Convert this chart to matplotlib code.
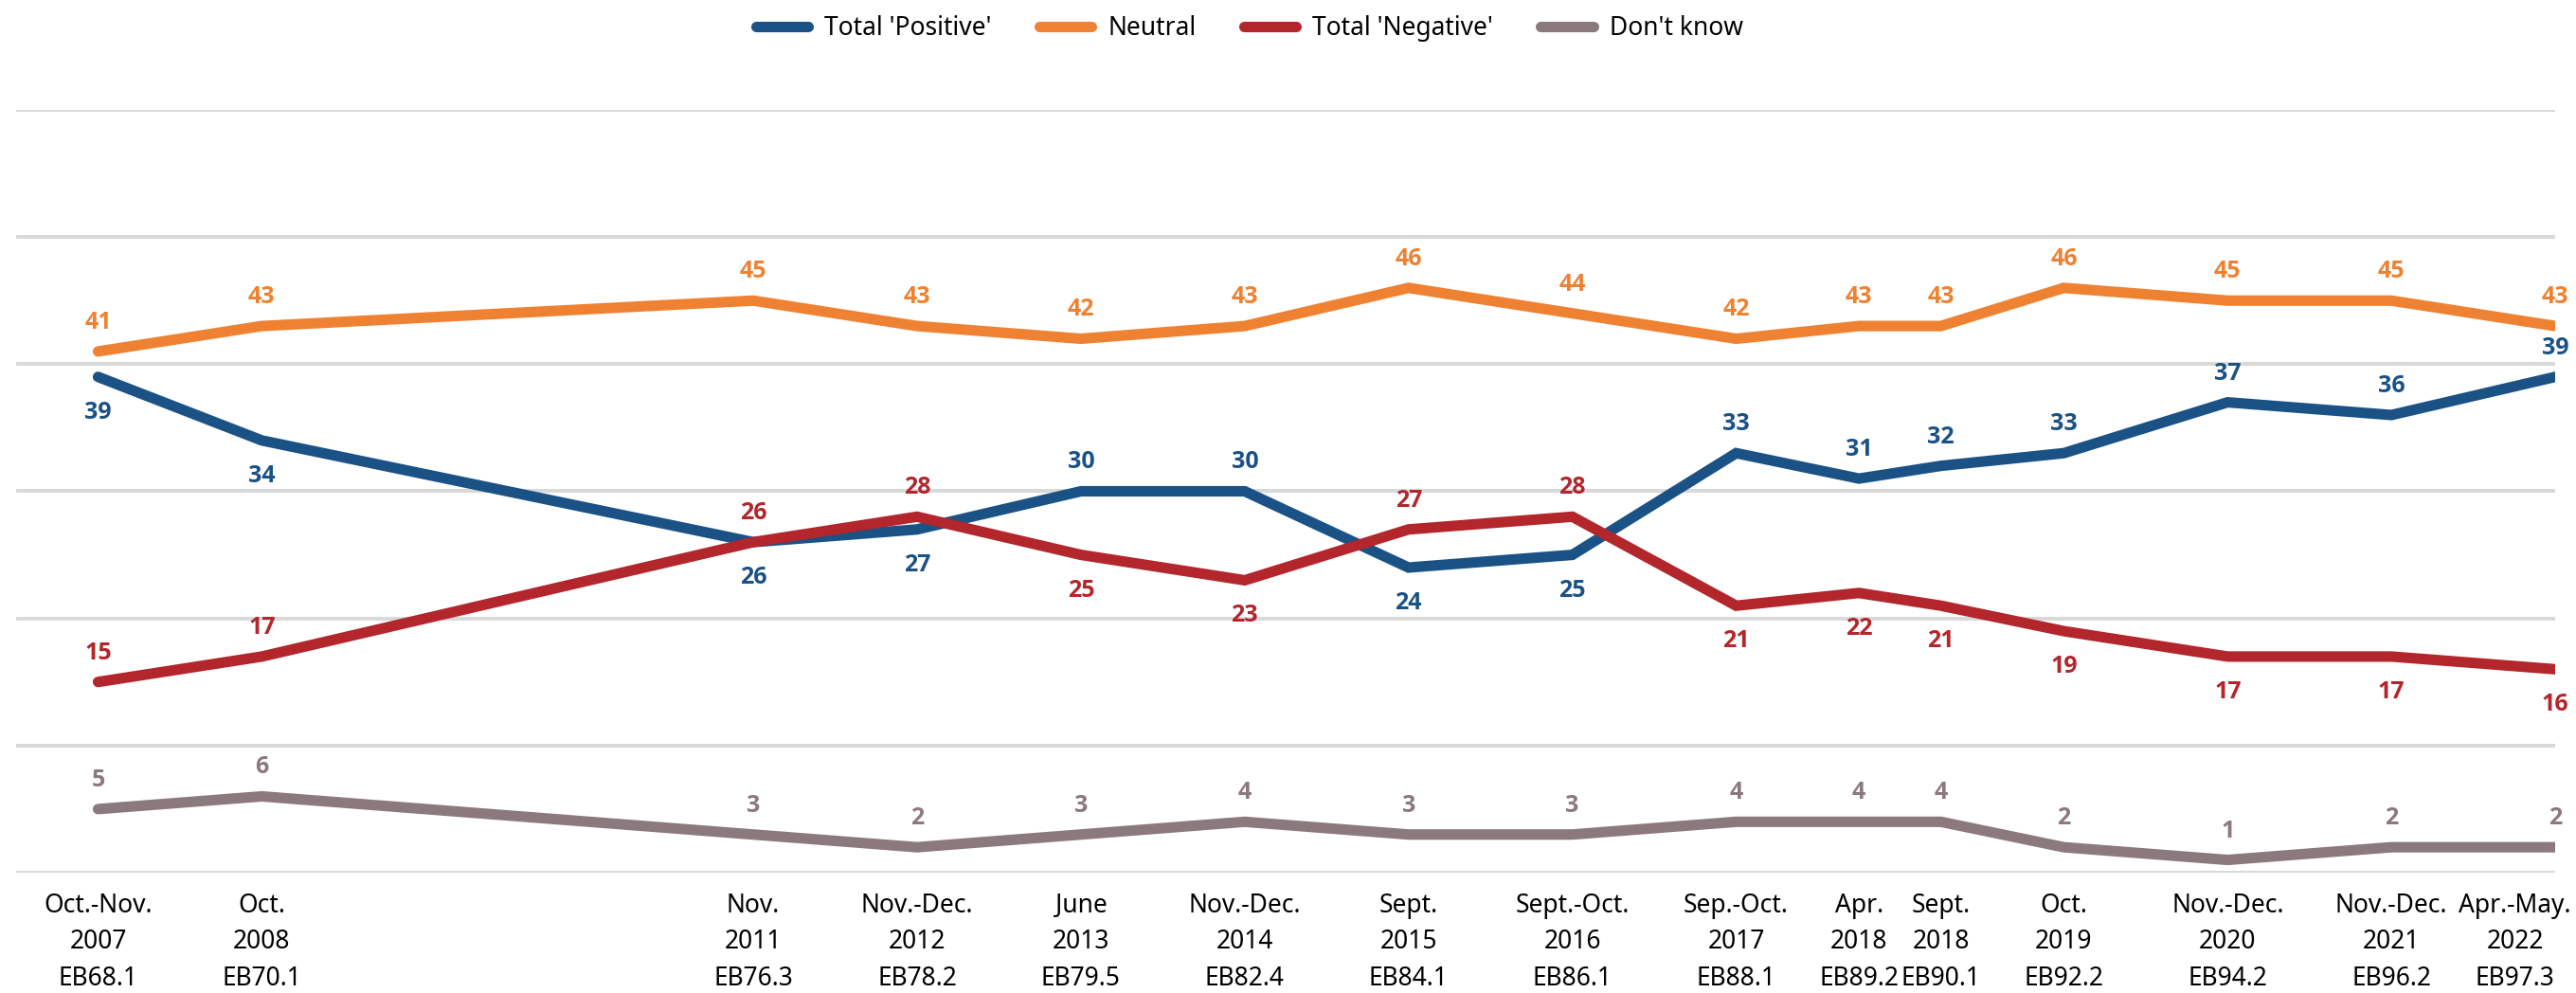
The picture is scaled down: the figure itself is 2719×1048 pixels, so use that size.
import matplotlib.pyplot as plt
from matplotlib.transforms import ScaledTranslation

plt.rcParams['font.family'] = ['Noto Sans', 'DejaVu Sans']

# survey waves (x position follows the chart's own spacing)
wave_pos = [0, 1, 4, 5, 6, 7, 8, 9, 10, 10.75, 11.25, 12, 13, 14, 15]
wave_labels = [
    "Oct.-Nov.\n2007\nEB68.1", "Oct.\n2008\nEB70.1", "Nov.\n2011\nEB76.3",
    "Nov.-Dec.\n2012\nEB78.2", "June\n2013\nEB79.5", "Nov.-Dec.\n2014\nEB82.4",
    "Sept.\n2015\nEB84.1", "Sept.-Oct.\n2016\nEB86.1", "Sep.-Oct.\n2017\nEB88.1",
    "Apr.\n2018\nEB89.2", "Sept.\n2018\nEB90.1", "Oct.\n2019\nEB92.2",
    "Nov.-Dec.\n2020\nEB94.2", "Nov.-Dec.\n2021\nEB96.2", "Apr.-May.\n2022\nEB97.3",
]

positive = [39, 34, 26, 27, 30, 30, 24, 25, 33, 31, 32, 33, 37, 36, 39]
neutral = [41, 43, 45, 43, 42, 43, 46, 44, 42, 43, 43, 46, 45, 45, 43]
negative = [15, 17, 26, 28, 25, 23, 27, 28, 21, 22, 21, 19, 17, 17, 16]
dont_know = [5, 6, 3, 2, 3, 4, 3, 3, 4, 4, 4, 2, 1, 2, 2]

# label placement: 1 = above the line, -1 = below
pos_side = [-1, -1, -1, -1, 1, 1, -1, -1, 1, 1, 1, 1, 1, 1, 1]
neg_side = [1, 1, 1, 1, -1, -1, 1, 1, -1, -1, -1, -1, -1, -1, -1]

series = [
    ("Total 'Positive'", positive, '#1b5286', pos_side),
    ("Neutral", neutral, '#ef8232', [1] * 15),
    ("Total 'Negative'", negative, '#b2262c', neg_side),
    ("Don't know", dont_know, '#8b797d', [1] * 15),
]

fig = plt.figure(figsize=(27.19, 10.48), dpi=100)
ax = fig.add_axes([0.00625, 0.1212, 0.9857, 0.7681])

for name, vals, col, side in series:
    ax.plot(wave_pos, vals, color=col, lw=8, solid_capstyle='round',
            solid_joinstyle='miter', label=name, zorder=3)
    for x, v, s in zip(wave_pos, vals, side):
        off = 22 if s > 0 else -27
        ax.annotate(str(v), (x, v), xytext=(0, off), textcoords='offset points',
                    ha='center', va='center', fontsize=18, fontweight='bold',
                    family=['Open Sans', 'DejaVu Sans'],
                    color=col, zorder=4, annotation_clip=False)

ax.set_xlim(-0.5, 15)
ax.set_ylim(0, 60)
ax.set_yticks(range(0, 61, 10))
ax.yaxis.grid(True, color='#d9d9d9', lw=2.9)
ax.set_axisbelow(True)
ax.tick_params(axis='y', left=False, labelleft=False)
ax.set_xticks(wave_pos)
ax.set_xticklabels(wave_labels, fontsize=19, linespacing=1.5)
ax.tick_params(axis='x', length=0, pad=15)
for sp in ax.spines.values():
    sp.set_visible(False)

last = ax.get_xticklabels()[-1]
last.set_horizontalalignment('right')
last.set_multialignment('center')
last.set_transform(last.get_transform() + ScaledTranslation(12 / 72, 0, fig.dpi_scale_trans))

fig.legend(loc='center', bbox_to_anchor=(0.485, 0.971), ncol=4, frameon=False,
           fontsize=19, handlelength=2.1, handletextpad=0.65, columnspacing=1.9)

fig.savefig('out.png', dpi=100)
